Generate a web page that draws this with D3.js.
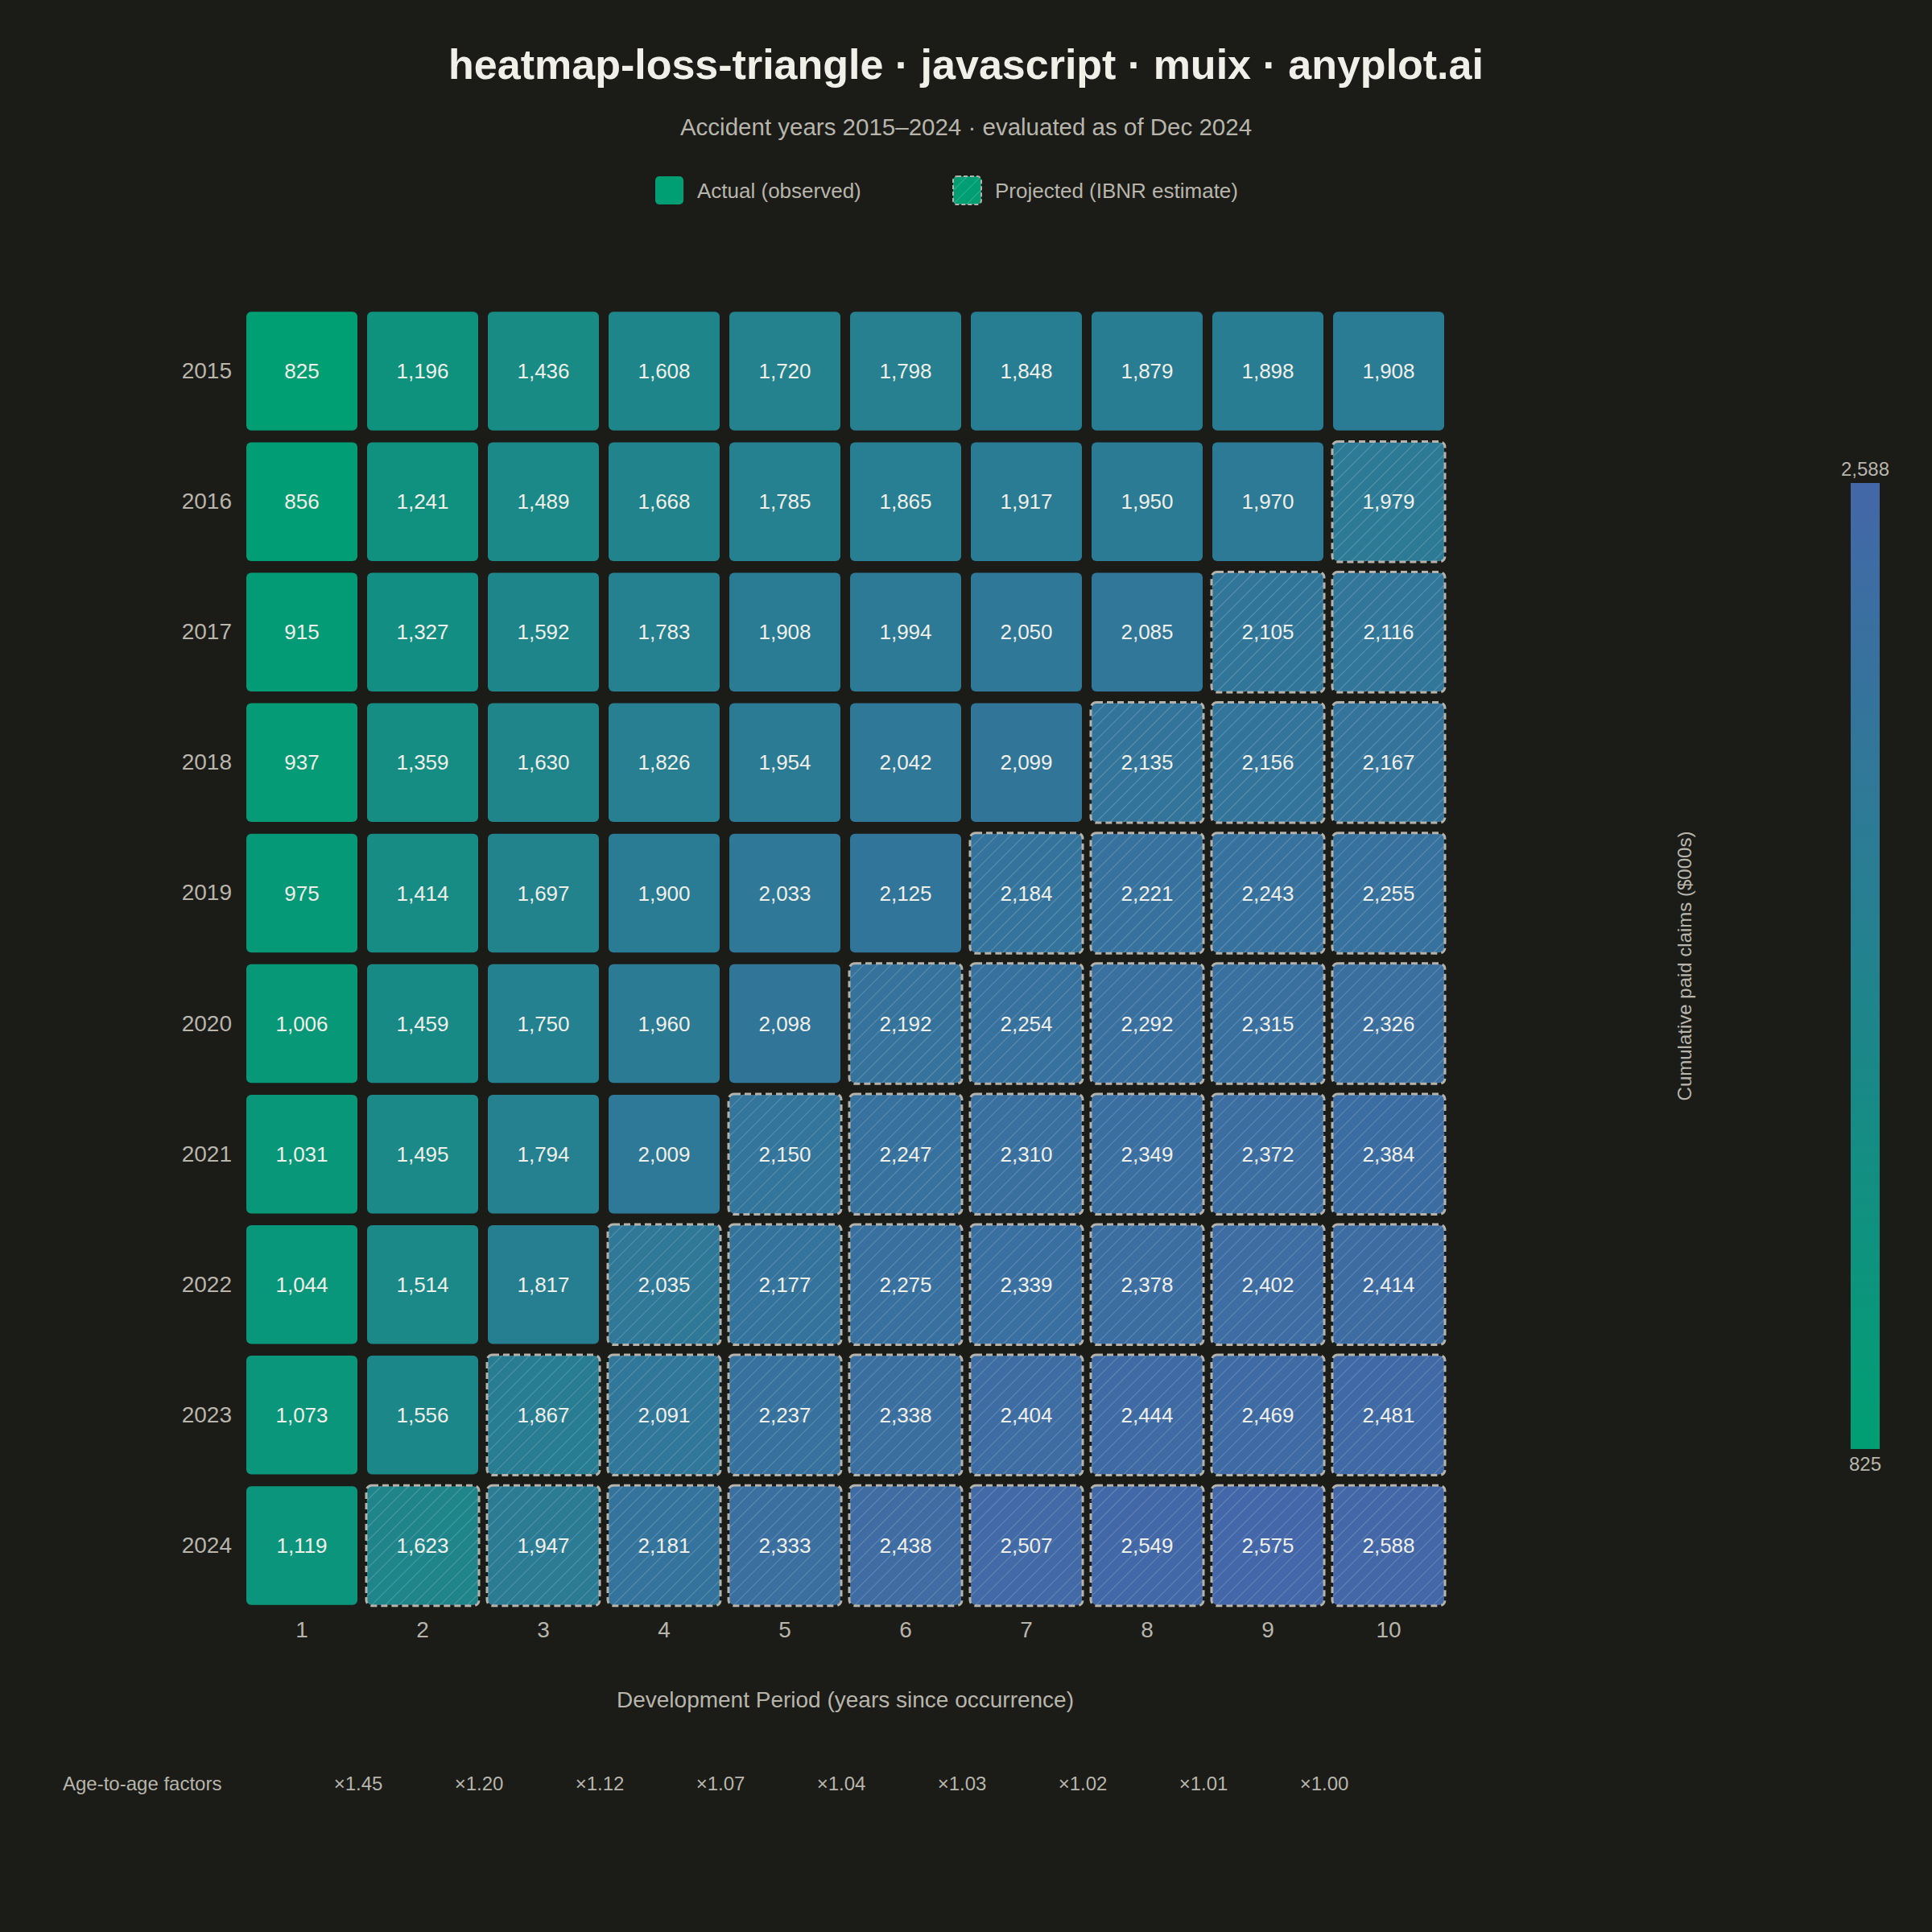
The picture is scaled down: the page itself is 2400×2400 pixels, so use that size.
<!DOCTYPE html>
<html>
<meta charset="utf-8">
<style>
  body { margin: 0; background: #1b1b17; }
  svg text { font-family: "Liberation Sans", Arial, sans-serif; }
</style>
<body>
<svg id="chart" width="2400" height="2400"></svg>
<script src="https://cdn.jsdelivr.net/npm/d3@7"></script>
<script>
  // accident years (rows) and development periods (columns)
  var years = [2015, 2016, 2017, 2018, 2019, 2020, 2021, 2022, 2023, 2024];
  var periods = [1, 2, 3, 4, 5, 6, 7, 8, 9, 10];

  // cumulative paid claims ($000s), one array per accident year
  var ay2015 = [825, 1196, 1436, 1608, 1720, 1798, 1848, 1879, 1898, 1908];
  var ay2016 = [856, 1241, 1489, 1668, 1785, 1865, 1917, 1950, 1970, 1979];
  var ay2017 = [915, 1327, 1592, 1783, 1908, 1994, 2050, 2085, 2105, 2116];
  var ay2018 = [937, 1359, 1630, 1826, 1954, 2042, 2099, 2135, 2156, 2167];
  var ay2019 = [975, 1414, 1697, 1900, 2033, 2125, 2184, 2221, 2243, 2255];
  var ay2020 = [1006, 1459, 1750, 1960, 2098, 2192, 2254, 2292, 2315, 2326];
  var ay2021 = [1031, 1495, 1794, 2009, 2150, 2247, 2310, 2349, 2372, 2384];
  var ay2022 = [1044, 1514, 1817, 2035, 2177, 2275, 2339, 2378, 2402, 2414];
  var ay2023 = [1073, 1556, 1867, 2091, 2237, 2338, 2404, 2444, 2469, 2481];
  var ay2024 = [1119, 1623, 1947, 2181, 2333, 2438, 2507, 2549, 2575, 2588];
  var rows = [ay2015, ay2016, ay2017, ay2018, ay2019, ay2020, ay2021, ay2022, ay2023, ay2024];

  // observed periods per accident year (rest is projected)
  var observed = [10, 9, 8, 7, 6, 5, 4, 3, 2, 1];

  // age-to-age factors between consecutive periods
  var factors = [1.45, 1.20, 1.12, 1.07, 1.04, 1.03, 1.02, 1.01, 1.00];

  var bg = "#1b1b17", fg = "#f0efe8", muted = "#b7b5ac";
  var lowColor = "#009E73", highColor = "#4467A8";

  var cells = [];
  rows.forEach(function(r, i){
    r.forEach(function(v, j){
      cells.push({year: years[i], period: periods[j], value: v, projected: j >= observed[i]});
    });
  });

  var svg = d3.select("#chart");
  svg.append("rect").attr("width", 2400).attr("height", 2400).attr("fill", bg);

  var x = d3.scaleBand().domain(periods).range([300, 1800]).paddingInner(0.08).paddingOuter(0.04);
  var y = d3.scaleBand().domain(years).range([380, 2001]).paddingInner(0.09).paddingOuter(0.045);
  var extent = d3.extent(cells, function(d){ return d.value; });
  var color = d3.scaleLinear().domain(extent).range([lowColor, highColor]);
  var fmt = d3.format(",");

  // hatch pattern for projected cells
  var defs = svg.append("defs");
  defs.append("pattern")
      .attr("id", "hatch")
      .attr("patternUnits", "userSpaceOnUse")
      .attr("width", 12).attr("height", 12)
      .attr("patternTransform", "rotate(45)")
    .append("line")
      .attr("x1", 0).attr("y1", 0).attr("x2", 0).attr("y2", 12)
      .attr("stroke", "#ffffff").attr("stroke-opacity", 0.25).attr("stroke-width", 1.6);

  var grad = defs.append("linearGradient").attr("id", "cbar")
      .attr("x1", 0).attr("y1", 1).attr("x2", 0).attr("y2", 0);
  d3.range(0, 1.01, 0.1).forEach(function(t){
    grad.append("stop").attr("offset", t).attr("stop-color", color(extent[0] + t * (extent[1] - extent[0])));
  });

  // title + subtitle
  svg.append("text").attr("x", 1200).attr("y", 98).attr("text-anchor", "middle")
      .attr("fill", fg).attr("font-size", 52).attr("font-weight", "bold")
      .text("heatmap-loss-triangle · javascript · muix · anyplot.ai");
  svg.append("text").attr("x", 1200).attr("y", 168).attr("text-anchor", "middle")
      .attr("fill", muted).attr("font-size", 29.5)
      .text("Accident years 2015–2024 · evaluated as of Dec 2024");

  // legend
  var legend = svg.append("g");
  var l1 = legend.append("g").attr("transform", "translate(814,219)");
  l1.append("rect").attr("width", 35).attr("height", 35).attr("rx", 5).attr("fill", lowColor);
  l1.append("text").attr("x", 52).attr("y", 27).attr("fill", muted).attr("font-size", 26).text("Actual (observed)");
  var l2 = legend.append("g").attr("transform", "translate(1184,219)");
  l2.append("rect").attr("width", 35).attr("height", 35).attr("rx", 5).attr("fill", lowColor);
  l2.append("rect").attr("width", 35).attr("height", 35).attr("rx", 5).attr("fill", "url(#hatch)")
      .attr("stroke", "#b5b3ab").attr("stroke-width", 2).attr("stroke-dasharray", "5,3");
  l2.append("text").attr("x", 52).attr("y", 27).attr("fill", muted).attr("font-size", 26).text("Projected (IBNR estimate)");

  // cells
  var g = svg.append("g");
  var cell = g.selectAll("g.cell").data(cells).enter().append("g").attr("class", "cell")
      .attr("transform", function(d){ return "translate(" + x(d.period) + "," + y(d.year) + ")"; });
  cell.append("rect")
      .attr("width", x.bandwidth()).attr("height", y.bandwidth()).attr("rx", 6)
      .attr("fill", function(d){ return color(d.value); });
  cell.filter(function(d){ return d.projected; }).append("rect")
      .attr("x", -1).attr("y", -1)
      .attr("width", x.bandwidth() + 2).attr("height", y.bandwidth() + 2).attr("rx", 7)
      .attr("fill", "url(#hatch)")
      .attr("stroke", "#b5b3ab").attr("stroke-width", 3).attr("stroke-dasharray", "8,5");
  cell.append("text")
      .attr("x", x.bandwidth() / 2).attr("y", y.bandwidth() / 2).attr("dy", "0.35em")
      .attr("text-anchor", "middle").attr("fill", fg).attr("font-size", 26)
      .text(function(d){ return fmt(d.value); });

  // axes
  var yAxis = svg.append("g").attr("transform", "translate(300,0)")
      .call(d3.axisLeft(y).tickSize(0).tickPadding(12).tickFormat(d3.format("d")));
  var xAxis = svg.append("g").attr("transform", "translate(0,2006)")
      .call(d3.axisBottom(x).tickSize(0).tickPadding(8));
  [xAxis, yAxis].forEach(function(a){
    a.select(".domain").remove();
    a.selectAll("text").attr("fill", muted).attr("font-size", 28)
      .attr("font-family", "Liberation Sans, Arial, sans-serif");
  });

  svg.append("text").attr("x", 1050).attr("y", 2121).attr("text-anchor", "middle")
      .attr("fill", muted).attr("font-size", 28)
      .text("Development Period (years since occurrence)");

  // age-to-age factors row
  svg.append("text").attr("x", 78).attr("y", 2224).attr("fill", muted).attr("font-size", 24)
      .text("Age-to-age factors");
  svg.selectAll("text.factor").data(factors).enter().append("text").attr("class", "factor")
      .attr("x", function(d, i){ return x(periods[i]) + x.step() - x.step() * 0.08 / 2 - 5; })
      .attr("y", 2224).attr("text-anchor", "middle").attr("fill", muted).attr("font-size", 24)
      .text(function(d){ return "×" + d.toFixed(2); });

  // colour bar
  var cScale = d3.scaleLinear().domain(extent).range([1800, 600]);
  svg.append("rect").attr("x", 2299).attr("y", cScale(extent[1]))
      .attr("width", 36).attr("height", cScale(extent[0]) - cScale(extent[1]))
      .attr("fill", "url(#cbar)");
  svg.append("text").attr("x", 2317).attr("y", cScale(extent[1]) - 9).attr("text-anchor", "middle")
      .attr("fill", muted).attr("font-size", 24).text(fmt(extent[1]));
  svg.append("text").attr("x", 2317).attr("y", cScale(extent[0]) + 27).attr("text-anchor", "middle")
      .attr("fill", muted).attr("font-size", 24).text(fmt(extent[0]));
  svg.append("text").attr("transform", "translate(2101,1200) rotate(-90)").attr("text-anchor", "middle")
      .attr("fill", muted).attr("font-size", 24).text("Cumulative paid claims ($000s)");
</script>
</body>
</html>
